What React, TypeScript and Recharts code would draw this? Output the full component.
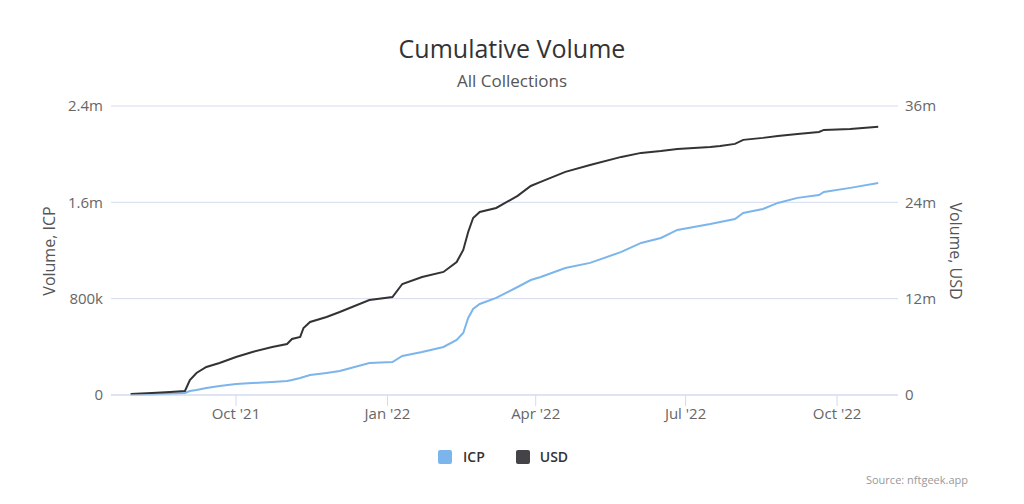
import React from "react";
import { LineChart, Line, XAxis, YAxis, CartesianGrid } from "recharts";

// cumulative volume
const dates = [
  "2021-07-29", "2021-08-11", "2021-08-22", "2021-08-31", "2021-09-03", "2021-09-07",
  "2021-09-13", "2021-09-21", "2021-10-01", "2021-10-11", "2021-10-23", "2021-11-01",
  "2021-11-04", "2021-11-09", "2021-11-11", "2021-11-15", "2021-11-25", "2021-12-03",
  "2021-12-21", "2022-01-04", "2022-01-10", "2022-01-22", "2022-02-04", "2022-02-12",
  "2022-02-16", "2022-02-19", "2022-02-22", "2022-02-26", "2022-03-08", "2022-03-21",
  "2022-03-29", "2022-04-04", "2022-04-19", "2022-05-04", "2022-05-23", "2022-06-04",
  "2022-06-16", "2022-06-26", "2022-07-16", "2022-07-22", "2022-07-31", "2022-08-05",
  "2022-08-17", "2022-08-26", "2022-09-07", "2022-09-20", "2022-09-23", "2022-10-09",
  "2022-10-26",
];

const icpVolume = [
  3000, 5000, 10000, 17000, 33000, 42000,
  58000, 75000, 91000, 100000, 108000, 116000,
  125000, 141000, 150000, 166000, 183000, 199000,
  266000, 274000, 324000, 357000, 399000, 457000,
  515000, 640000, 715000, 756000, 806000, 897000,
  955000, 980000, 1055000, 1097000, 1188000, 1263000,
  1304000, 1371000, 1420000, 1437000, 1462000, 1512000,
  1545000, 1595000, 1637000, 1661000, 1686000, 1720000,
  1761000,
];

const usdVolume = [
  120000, 250000, 370000, 500000, 1870000, 2740000,
  3490000, 3990000, 4740000, 5360000, 5980000, 6350000,
  6980000, 7230000, 8350000, 9100000, 9720000, 10340000,
  11840000, 12210000, 13830000, 14700000, 15330000, 16570000,
  18070000, 20310000, 22050000, 22800000, 23300000, 24800000,
  26040000, 26540000, 27790000, 28660000, 29660000, 30160000,
  30400000, 30650000, 30900000, 31030000, 31280000, 31780000,
  32030000, 32270000, 32520000, 32770000, 33020000, 33150000,
  33400000,
];

const tickDates = ["2021-10-01", "2022-01-01", "2022-04-01", "2022-07-01", "2022-10-01"];
const tickLabels = ["Oct '21", "Jan '22", "Apr '22", "Jul '22", "Oct '22"];

const icpTicks = [0, 800000, 1600000, 2400000];
const usdTicks = [0, 12000000, 24000000, 36000000];

const FONT = "'Open Sans', sans-serif";
const ICP_COLOR = "#7cb5ec";
const USD_COLOR = "#434348";
const GRID = "#d3dbee";

// days since 1 Oct 2021
const toDay = (s: string) => {
  const [y, m, d] = s.split("-").map(Number);
  return (Date.UTC(y, m - 1, d) - Date.UTC(2021, 9, 1)) / 86400000;
};

const data = dates.map((d, i) => ({ t: toDay(d), icp: icpVolume[i], usd: usdVolume[i] }));
const xTicks = tickDates.map(toDay);

const fmtShort = (v: number) => {
  if (v === 0) return "0";
  if (v >= 1e6) return `${+(v / 1e6).toFixed(1)}m`;
  return `${+(v / 1e3).toFixed(1)}k`;
};

const tickStyle = { fill: "#666", fontSize: 15, fontFamily: FONT };

function AxisTitle({ x, y, angle, text }: { x: number; y: number; angle: number; text: string }) {
  return (
    <text
      x={x}
      y={y}
      transform={`rotate(${angle} ${x} ${y})`}
      textAnchor="middle"
      dominantBaseline="central"
      fill="#555"
      fontSize={16}
      fontFamily={FONT}
    >
      {text}
    </text>
  );
}

export default function App() {
  return (
    <div style={{ position: "absolute", left: 0, top: 0, width: 1024, height: 504, background: "#fff", fontFamily: FONT }}>
      <div style={{ position: "absolute", top: 31, width: 1024, textAlign: "center", fontSize: 25, color: "#333" }}>
        Cumulative Volume
      </div>
      <div style={{ position: "absolute", top: 69, width: 1024, textAlign: "center", fontSize: 17, color: "#555" }}>
        All Collections
      </div>
      <LineChart width={1024} height={504} data={data} margin={{ top: 106, right: 66, bottom: 79, left: 51 }}>
        <CartesianGrid yAxisId="left" vertical={false} stroke={GRID} />
        <XAxis
          dataKey="t"
          type="number"
          domain={[-75.9, 402]}
          ticks={xTicks}
          tickFormatter={(v: number) => tickLabels[xTicks.indexOf(v)] ?? ""}
          height={30}
          stroke={GRID}
          tickSize={11}
          tickMargin={2}
          tick={tickStyle}
          allowDataOverflow
        />
        <YAxis
          yAxisId="left"
          width={60}
          domain={[0, 2400000]}
          ticks={icpTicks}
          tickFormatter={fmtShort}
          axisLine={false}
          tickLine={false}
          tickSize={0}
          tickMargin={8}
          tick={tickStyle}
          label={() => <AxisTitle x={49} y={251} angle={-90} text="Volume, ICP" />}
        />
        <YAxis
          yAxisId="right"
          orientation="right"
          width={60}
          domain={[0, 36000000]}
          ticks={usdTicks}
          tickFormatter={fmtShort}
          axisLine={false}
          tickLine={false}
          tickSize={0}
          tickMargin={7}
          tick={tickStyle}
          label={() => <AxisTitle x={956} y={251} angle={90} text="Volume, USD" />}
        />
        <Line yAxisId="left" dataKey="icp" type="linear" stroke={ICP_COLOR} strokeWidth={2} dot={false} isAnimationActive={false} />
        <Line yAxisId="right" dataKey="usd" type="linear" stroke="#333336" strokeWidth={2} dot={false} isAnimationActive={false} />
      </LineChart>
      {/* legend */}
      <div style={{ position: "absolute", top: 447, left: 438, display: "flex", alignItems: "center", fontSize: 14, fontWeight: 600, color: "#333" }}>
        <span style={{ width: 14, height: 14, borderRadius: 2, background: ICP_COLOR, display: "inline-block" }} />
        <span style={{ marginLeft: 11 }}>ICP</span>
        <span style={{ width: 14, height: 14, borderRadius: 2, background: USD_COLOR, display: "inline-block", marginLeft: 31 }} />
        <span style={{ marginLeft: 10 }}>USD</span>
      </div>
      <div style={{ position: "absolute", top: 472, right: 56, fontSize: 11, color: "#999" }}>Source: nftgeek.app</div>
    </div>
  );
}
